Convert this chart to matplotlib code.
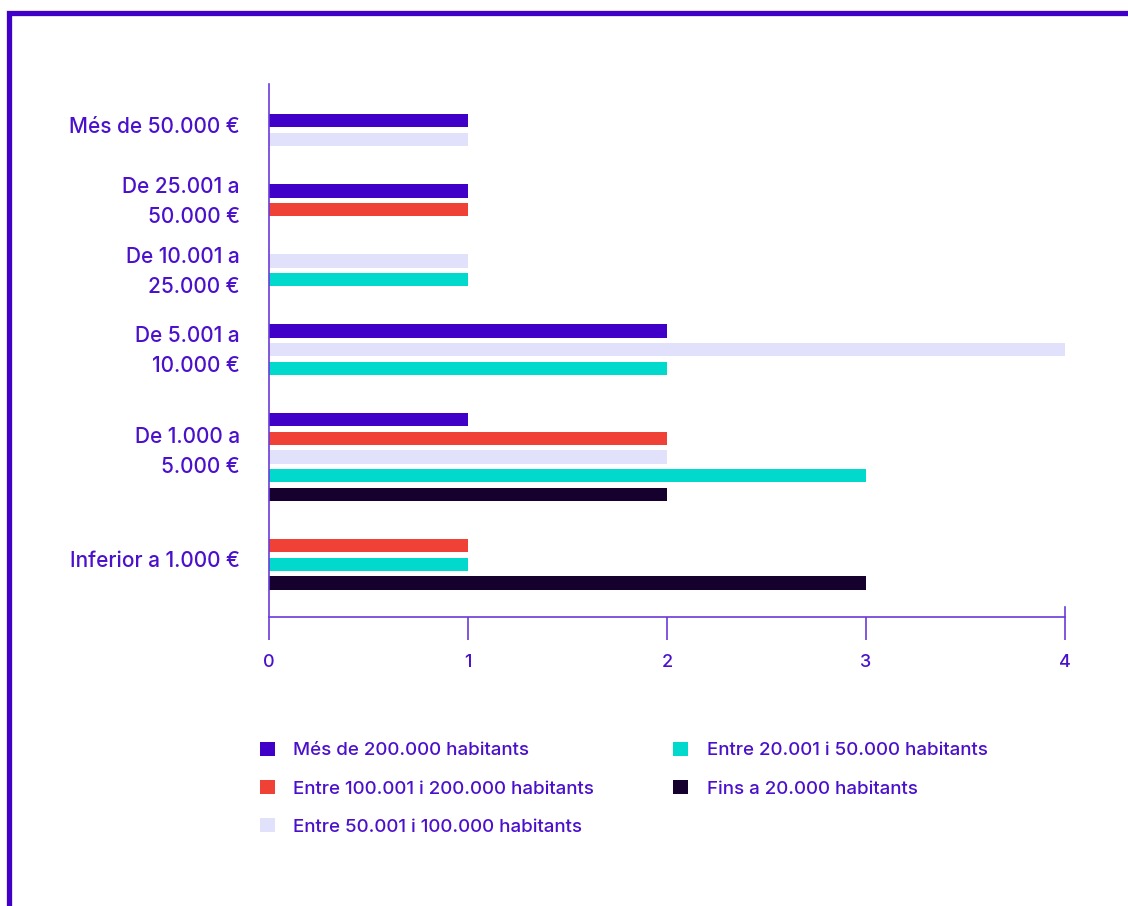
import matplotlib
matplotlib.use("Agg")
import matplotlib.pyplot as plt
from matplotlib.lines import Line2D
from matplotlib.patches import Patch

plt.rcParams['font.family'] = ['Inter', 'DejaVu Sans']
plt.rcParams['font.weight'] = 500

categories = [
    "Més de 50.000 €",
    "De 25.001 a\n50.000 €",
    "De 10.001 a\n25.000 €",
    "De 5.001 a\n10.000 €",
    "De 1.000 a\n5.000 €",
    "Inferior a 1.000 €",
]
series_names = [
    "Més de 200.000 habitants",
    "Entre 100.001 i 200.000 habitants",
    "Entre 50.001 i 100.000 habitants",
    "Entre 20.001 i 50.000 habitants",
    "Fins a 20.000 habitants",
]
# values[series][category]; zero means no bar in that group
mes_200k = [1, 1, 0, 2, 1, 0]
de_100k_200k = [0, 1, 0, 0, 2, 1]
de_50k_100k = [1, 0, 1, 4, 2, 0]
de_20k_50k = [0, 0, 1, 2, 3, 1]
fins_20k = [0, 0, 0, 0, 2, 3]
series_values = [mes_200k, de_100k_200k, de_50k_100k, de_20k_50k, fins_20k]
colors = ["#4100C8", "#EF4136", "#E2E1FB", "#00D9CB", "#15002E"]
x_ticks = [0, 1, 2, 3, 4]

TEXT = "#4A10CC"
AXIS = "#6B3BD8"
BAR_H = 0.7
GROUP_GAP = 2.75
LABEL_SHIFT = 0.3

fig = plt.figure(figsize=(11.28, 9.06), dpi=100)
W, H = 1128, 906
ax = fig.add_axes([269 / W, 1 - 617 / H, (1065 - 269) / W, (617 - 84) / H])

# lay out the bars: only non-zero series take a slot inside each group
pos = 0.0
centers = []
for ci in range(len(categories)):
    slots = []
    for si, vals in enumerate(series_values):
        if vals[ci] > 0:
            ax.barh(pos, vals[ci], height=BAR_H, color=colors[si], zorder=2)
            slots.append(pos)
            pos += 1
    centers.append((slots[0] + slots[-1]) / 2 - LABEL_SHIFT)
    pos = slots[-1] + GROUP_GAP

# the five-bar group carries its label a bit higher
centers[4] -= 0.35

ax.set_ylim(slots[-1] + 1.82, -1.98)
ax.set_xlim(0, 4)

ax.set_yticks(centers)
ax.set_yticklabels(categories, fontsize=15, color=TEXT, linespacing=1.65)
ax.tick_params(axis='y', length=0, pad=21)
ax.set_xticks(x_ticks)
ax.set_xticklabels([str(t) for t in x_ticks], fontsize=13, color=TEXT)
ax.tick_params(axis='x', length=16.5, width=1.2, color=AXIS, pad=10, direction='out')

for side in ["top", "right"]:
    ax.spines[side].set_visible(False)
for side in ["left", "bottom"]:
    ax.spines[side].set_color(AXIS)
    ax.spines[side].set_linewidth(1.2)

# end marker at x=4 rising a little above the baseline
ax.plot([1, 1], [0.0, 0.019], transform=ax.transAxes,
        color=AXIS, lw=1.2, clip_on=False)

handles = [Patch(facecolor=c, edgecolor='none') for c in colors]
fig.legend(handles, series_names, ncol=2, loc='upper left',
           bbox_to_anchor=(252 / W, 1 - 734 / H), frameon=False,
           fontsize=13.5, labelcolor=TEXT, handlelength=0.8,
           handleheight=0.8, handletextpad=1.0, columnspacing=4.2,
           labelspacing=1.1, borderaxespad=0)

# frame along the left and top edges
fig.add_artist(Line2D([8.5 / W, 8.5 / W, 1.0], [0.0, 1 - 12.5 / H, 1 - 12.5 / H],
                      transform=fig.transFigure, color="#4100C8", lw=3.8,
                      solid_joinstyle='miter'))

fig.savefig("out.png", dpi=100, facecolor="white")
